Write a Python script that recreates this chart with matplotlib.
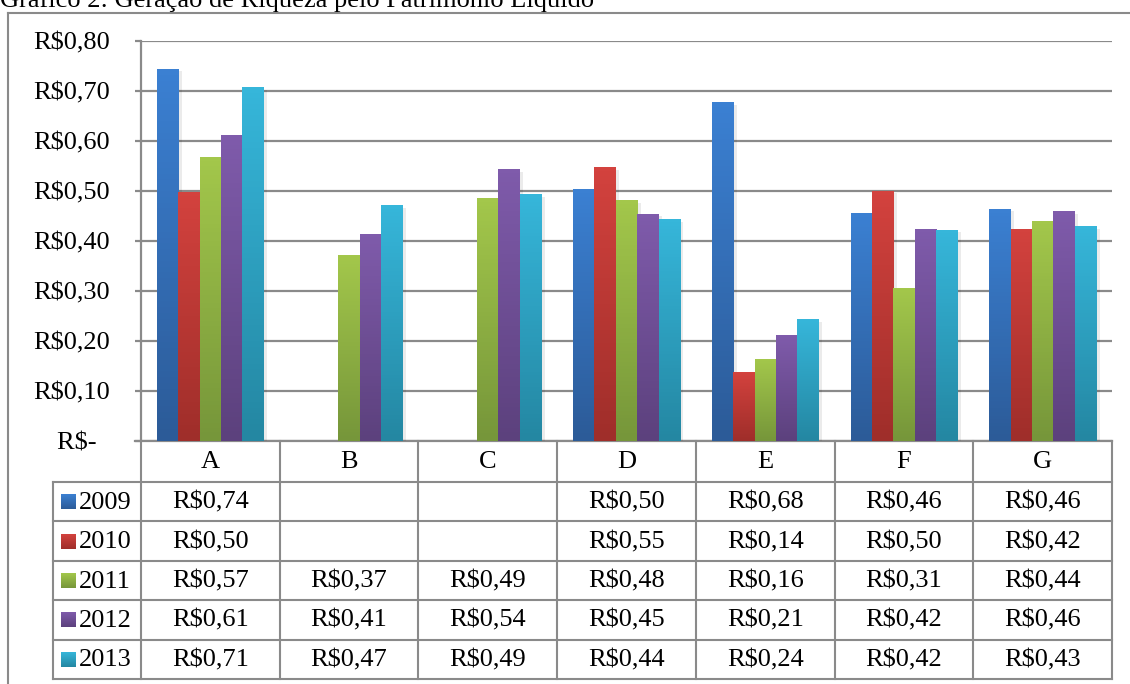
import matplotlib.pyplot as plt
import numpy as np
from matplotlib.colors import to_rgb

plt.rcParams['font.family'] = ['Liberation Serif', 'DejaVu Serif']

# dados do grafico
empresas = ['A', 'B', 'C', 'D', 'E', 'F', 'G']
anos = ['2009', '2010', '2011', '2012', '2013']
v2009 = [0.744, np.nan, np.nan, 0.504, 0.677, 0.456, 0.464]
v2010 = [0.497, np.nan, np.nan, 0.547, 0.137, 0.500, 0.424]
v2011 = [0.567, 0.371, 0.486, 0.481, 0.164, 0.306, 0.439]
v2012 = [0.611, 0.414, 0.543, 0.454, 0.211, 0.424, 0.459]
v2013 = [0.707, 0.471, 0.493, 0.443, 0.243, 0.422, 0.429]
series = [v2009, v2010, v2011, v2012, v2013]
yticks = [0, 0.1, 0.2, 0.3, 0.4, 0.5, 0.6, 0.7, 0.8]
ytick_labels = ['R$-  ', 'R$0,10', 'R$0,20', 'R$0,30', 'R$0,40',
                'R$0,50', 'R$0,60', 'R$0,70', 'R$0,80']

# cores (topo claro, base escura)
cores = [('#3b80d2', '#2c5b98'), ('#d3423e', '#9f2e2a'),
         ('#a3c74b', '#76963a'), ('#7f5bab', '#5c417d'),
         ('#36b6da', '#2487a2')]

W, H = 1130, 684
FS = 19
GRAY = '#8a8a8a'


def gradiente(top, bottom):
    return np.linspace(to_rgb(top), to_rgb(bottom), 64)[:, None, :]


def fmt(v):
    if np.isnan(v):
        return ''
    return 'R$' + ('%.2f' % v).replace('.', ',')


fig = plt.figure(figsize=(W / 100, H / 100), dpi=100)

# camada de fundo em pixels (moldura, tabela, titulo)
bg = fig.add_axes([0, 0, 1, 1])
bg.set_xlim(0, W)
bg.set_ylim(H, 0)
bg.axis('off')

x_left, x_right, y_top, y_zero = 141, 1112, 41, 441
cw = (x_right - x_left) / len(empresas)

ax = fig.add_axes([x_left / W, 1 - y_zero / H, (x_right - x_left) / W,
                   (y_zero - y_top) / H])
ax.patch.set_alpha(0)

# barras com gradiente
gap = 0.115
bw = (1 - 2 * gap) / len(anos)
for i, vals in enumerate(series):
    grad = gradiente(*cores[i])
    for j, v in enumerate(vals):
        if np.isnan(v):
            continue
        x0 = j + gap + i * bw
        ax.add_patch(plt.Rectangle((x0 + 0.025, 0), bw, v - 0.004,
                                   color='black', alpha=0.08, lw=0, zorder=2))
        ax.imshow(grad, extent=[x0, x0 + bw, 0, v], aspect='auto',
                  origin='upper', zorder=3)

ax.set_xlim(0, len(empresas))
ax.set_ylim(0, 0.8)
ax.set_yticks(yticks)
ax.set_yticklabels(ytick_labels, fontsize=FS)
ax.set_xticks([])
ax.yaxis.grid(True, color=GRAY, lw=1.6)
ax.set_axisbelow(True)
for s in ['top', 'right', 'bottom']:
    ax.spines[s].set_visible(False)
ax.spines['left'].set_color(GRAY)
ax.spines['left'].set_linewidth(1.6)
ax.tick_params(axis='y', length=4.5, width=1.6, color=GRAY, pad=18)

# moldura
bg.plot([7.5, 7.5], [13, H], color=GRAY, lw=1.5)
bg.plot([7.5, W], [13, 13], color=GRAY, lw=1.5)
bg.text(0, 7, 'Gráfico 2: Geração de Riqueza pelo Patrimônio Líquido',
        fontsize=FS, ha='left', va='baseline')

# tabela de dados
leg_left = 53
row_top = 482
row_h = (679 - row_top) / len(anos)
bg.plot([135, x_right], [y_zero, y_zero], color=GRAY, lw=1.6)
for k in range(len(empresas) + 1):
    xs = x_left + k * cw
    bg.plot([xs, xs], [y_zero, 679], color=GRAY, lw=1.5)
    if k < len(empresas):
        bg.text(xs + cw / 2, (y_zero + row_top) / 2 + 1, empresas[k],
                fontsize=FS, ha='center', va='center')
bg.plot([leg_left, leg_left], [row_top, 679], color=GRAY, lw=1.5)
for r in range(len(anos) + 1):
    yy = row_top + r * row_h
    bg.plot([leg_left, x_right], [yy, yy], color=GRAY, lw=1.5)

for i, vals in enumerate(series):
    yc = row_top + (i + 0.5) * row_h
    bg.imshow(gradiente(*cores[i]), extent=[61, 76, yc + 7.5, yc - 7.5],
              aspect='auto', origin='upper', zorder=3)
    bg.text(79, yc + 1, anos[i], fontsize=FS, ha='left', va='center')
    for j, v in enumerate(vals):
        bg.text(x_left + (j + 0.5) * cw, yc + 1, fmt(v), fontsize=FS,
                ha='center', va='center')

bg.set_xlim(0, W)
bg.set_ylim(H, 0)

fig.savefig('out.png', dpi=100)
